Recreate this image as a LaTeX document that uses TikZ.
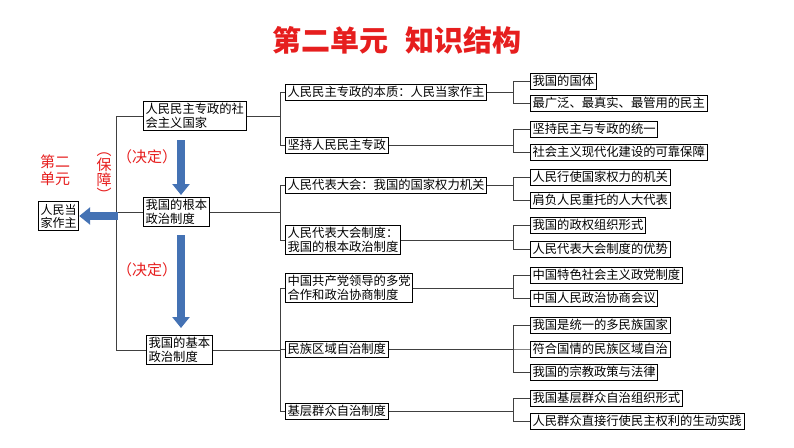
\documentclass[tikz,border=0pt]{standalone}
\usepackage{fontspec}
\setmainfont{Noto Sans CJK SC}
\usetikzlibrary{arrows.meta}
\definecolor{titlered}{RGB}{230,30,30}
\definecolor{arrowblue}{RGB}{68,114,180}
\begin{document}
\begin{tikzpicture}[x=1pt,y=-1pt,
        box/.style={draw,thick,anchor=west,inner sep=2.2pt,font=\fontsize{12.3}{13.5}\selectfont,align=left},
        link/.style={thick,draw=black!75},
        fat/.style={line width=8pt,arrowblue,-{Triangle[width=17pt,length=11pt]}},
        red label/.style={text=titlered,font=\fontsize{15}{17}\selectfont}]
        \useasboundingbox (0,0) rectangle (794,447);
        \node[text=titlered,font=\fontsize{29}{32}\selectfont\bfseries] (title) at (397,40) {第二单元\hspace{0.6em}知识结构};
        % left side
        \node[red label,align=left] (unit) at (55,170) {第二\\单元};
        \node[box,font=\fontsize{12}{13}\selectfont] (people) at (38,216) {人民当\\家作主};
        \node[red label,align=center,font=\fontsize{15}{15}\selectfont] (guard) at (104,177) {︵\\保\\障\\︶};
        \node[box] (state) at (143,116) {人民民主专政的社\\会主义国家};
        \node[box] (root) at (143,212) {我国的根本\\政治制度};
        \node[box] (basic) at (146,350) {我国的基本\\政治制度};
        \draw[link] (state.west) -- (116,116) -- (116,350) -- (basic.west);
        \draw[link] (root.west) -- (116,212);
        \draw[fat] (118,216) -- (people.east);
        \draw[fat] (181,140) -- (181,195);
        \draw[fat] (181,235) -- (181,328);
        \node[red label] (decide1) at (147,157) {（决定）};
        \node[red label] (decide2) at (147,270) {（决定）};
        % middle column
        \node[box] (essence) at (285,92) {人民民主专政的本质：人民当家作主};
        \node[box] (keep) at (285,145) {坚持人民民主专政};
        \node[box] (npc) at (285,185) {人民代表大会：我国的国家权力机关};
        \node[box] (npcsys) at (285,240) {人民代表大会制度：\\我国的根本政治制度};
        \node[box] (cpc) at (285,288) {中国共产党领导的多党\\合作和政治协商制度};
        \node[box] (ethnic) at (285,349) {民族区域自治制度};
        \node[box] (grass) at (285,411) {基层群众自治制度};
        \foreach \c in {essence,keep} \draw[link] (\c.west) -- ++(-5,0) |- (state.east);
        \foreach \c in {npc,npcsys} \draw[link] (\c.west) -- ++(-5,0) |- (root.east);
        \foreach \c in {cpc,ethnic,grass} \draw[link] (\c.west) -- ++(-5,0) |- (basic.east);
        % right column
        \node[box] (r1) at (530,81) {我国的国体};
        \node[box] (r2) at (530,103) {最广泛、最真实、最管用的民主};
        \node[box] (r3) at (530,129) {坚持民主与专政的统一};
        \node[box] (r4) at (530,152) {社会主义现代化建设的可靠保障};
        \node[box] (r5) at (530,177) {人民行使国家权力的机关};
        \node[box] (r6) at (530,200) {肩负人民重托的人大代表};
        \node[box] (r7) at (530,225) {我国的政权组织形式};
        \node[box] (r8) at (530,249) {人民代表大会制度的优势};
        \node[box] (r9) at (530,275) {中国特色社会主义政党制度};
        \node[box] (r10) at (530,298) {中国人民政治协商会议};
        \node[box] (r11) at (530,325) {我国是统一的多民族国家};
        \node[box] (r12) at (530,349) {符合国情的民族区域自治};
        \node[box] (r13) at (530,372) {我国的宗教政策与法律};
        \node[box] (r14) at (530,398) {我国基层群众自治组织形式};
        \node[box] (r15) at (530,421) {人民群众直接行使民主权利的生动实践};
        \foreach \c in {r1,r2} \draw[link] (\c.west) -- ++(-17,0) |- (essence.east);
        \foreach \c in {r3,r4} \draw[link] (\c.west) -- ++(-17,0) |- (keep.east);
        \foreach \c in {r5,r6} \draw[link] (\c.west) -- ++(-17,0) |- (npc.east);
        \foreach \c in {r7,r8} \draw[link] (\c.west) -- ++(-17,0) |- (npcsys.east);
        \foreach \c in {r9,r10} \draw[link] (\c.west) -- ++(-17,0) |- (cpc.east);
        \foreach \c in {r11,r12,r13} \draw[link] (\c.west) -- ++(-17,0) |- (ethnic.east);
        \foreach \c in {r14,r15} \draw[link] (\c.west) -- ++(-17,0) |- (grass.east);
\end{tikzpicture}
\end{document}
